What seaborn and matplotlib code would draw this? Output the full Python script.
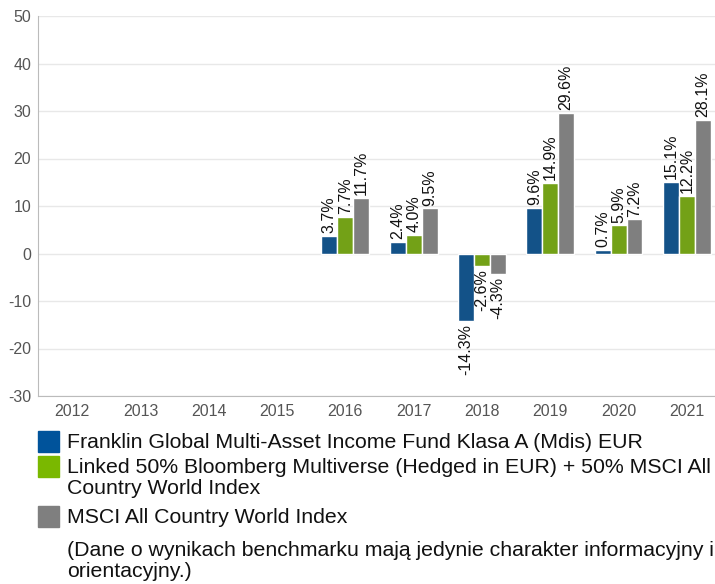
import numpy as np
import pandas as pd
import matplotlib.pyplot as plt
import seaborn as sns
from matplotlib.patches import Rectangle

years = ["2012", "2013", "2014", "2015", "2016", "2017", "2018", "2019", "2020", "2021"]
fund = [np.nan, np.nan, np.nan, np.nan, 3.7, 2.4, -14.3, 9.6, 0.7, 15.1]
linked = [np.nan, np.nan, np.nan, np.nan, 7.7, 4.0, -2.6, 14.9, 5.9, 12.2]
msci = [np.nan, np.nan, np.nan, np.nan, 11.7, 9.5, -4.3, 29.6, 7.2, 28.1]

series_names = [
    "Franklin Global Multi-Asset Income Fund Klasa A (Mdis) EUR",
    "Linked 50% Bloomberg Multiverse (Hedged in EUR) + 50% MSCI All\nCountry World Index",
    "MSCI All Country World Index",
]
note = "(Dane o wynikach benchmarku mają jedynie charakter informacyjny i\norientacyjny.)"
colors = ["#00539b", "#7ab800", "#7f7f7f"]

rows = []
for name, vals in zip(series_names, [fund, linked, msci]):
    for y, v in zip(years, vals):
        if not np.isnan(v):
            rows.append({"Year": y, "Series": name, "Value": v})
df = pd.DataFrame(rows)

sns.set_style("white")
plt.rcParams["font.family"] = ["Liberation Sans", "DejaVu Sans"]
plt.rcParams["axes.unicode_minus"] = False

fig = plt.figure(figsize=(7.15, 5.84), dpi=100)
ax = fig.add_axes([38 / 715, 1 - 396 / 584, 683 / 715, 380 / 584])

sns.barplot(data=df, x="Year", y="Value", hue="Series", order=years,
            hue_order=series_names, palette=colors, width=0.7,
            edgecolor="white", linewidth=1, legend=False, ax=ax)

for cont in ax.containers:
    labels = [f"{v:.1f}%" for v in cont.datavalues]
    ax.bar_label(cont, labels=labels, rotation=90, padding=2,
                 fontsize=11.5, color="#111111")

ax.set_ylim(-30, 50)
ax.set_yticks(range(-30, 51, 10))
ax.yaxis.grid(True, color="#e8e8e8", linewidth=1)
ax.set_axisbelow(True)
ax.set_xlabel("")
ax.set_ylabel("")
for s in ["top", "right"]:
    ax.spines[s].set_visible(False)
ax.spines["left"].set_color("#bbbbbb")
ax.spines["bottom"].set_color("#bbbbbb")
ax.tick_params(axis="both", length=0, labelsize=11.5, colors="#555555")
ax.tick_params(axis="y", pad=5)
ax.tick_params(axis="x", pad=6)

# legend drawn below the plot
leg_y = [442, 467, 517]
for c, name, y in zip(colors, series_names, leg_y):
    fig.add_artist(Rectangle((38 / 715, 1 - (y + 10) / 584), 21 / 715, 21 / 584,
                             transform=fig.transFigure, color=c))
    fig.text(67 / 715, 1 - (y - 9) / 584, name, fontsize=15.3, va="top",
             color="#111111", linespacing=1.15)
fig.text(67 / 715, 1 - 541 / 584, note, fontsize=15.3, va="top",
         color="#111111", linespacing=1.15)

fig.savefig("out.png", dpi=100)
